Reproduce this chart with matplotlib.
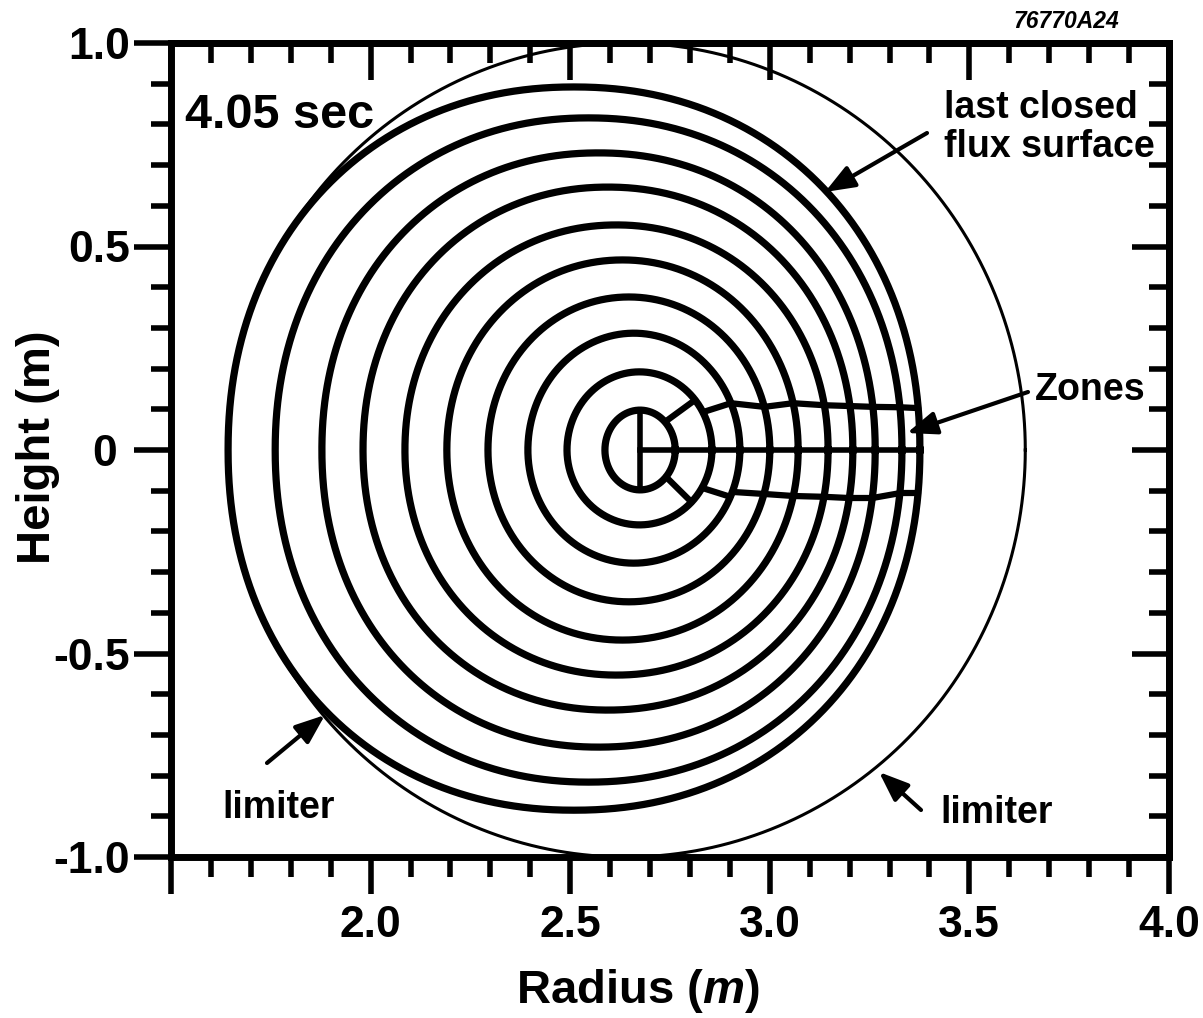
import numpy as np
import matplotlib
matplotlib.use("Agg")
import matplotlib.pyplot as plt
from matplotlib.ticker import MultipleLocator, FixedLocator, FixedFormatter

# ---------------- data ----------------
# nested flux surfaces (innermost first): inboard / outboard midplane radius, top / bottom height
ring_R_inner = [2.587, 2.492, 2.394, 2.294, 2.191, 2.086, 1.981, 1.878, 1.761, 1.643]
ring_R_outer = [2.763, 2.855, 2.925, 3.000, 3.071, 3.146, 3.208, 3.264, 3.331, 3.376]
ring_Z_top = [0.098, 0.192, 0.287, 0.376, 0.467, 0.553, 0.646, 0.730, 0.816, 0.892]
ring_Z_bottom = [-0.098, -0.184, -0.278, -0.373, -0.467, -0.553, -0.639, -0.730, -0.816, -0.885]
# squareness exponent of each surface (2 = ellipse)
ring_shape_n = [2.0, 2.0, 2.0, 2.02, 2.04, 2.06, 2.08, 2.1, 2.1, 2.12]

# limiter circle
limiter_R0 = 2.64
limiter_radius = 1.0

# zone boundaries: height where each boundary leaves ring k and reaches ring k+1
zone_upper_start = [0.069, 0.093, 0.115, 0.106, 0.115, 0.110, 0.108, 0.106, 0.105]
zone_upper_end = [0.123, 0.115, 0.106, 0.115, 0.110, 0.108, 0.106, 0.105, 0.103]
zone_lower_start = [-0.066, -0.093, -0.103, -0.108, -0.113, -0.115, -0.118, -0.118, -0.106]
zone_lower_end = [-0.128, -0.115, -0.108, -0.113, -0.115, -0.118, -0.118, -0.106, -0.106]

x_major = [1.5, 2.0, 2.5, 3.0, 3.5, 4.0]
x_labels = ["", "2.0", "2.5", "3.0", "3.5", "4.0"]
y_major = [-1.0, -0.5, 0.0, 0.5, 1.0]
y_labels = ["-1.0", "-0.5", "0 ", "0.5", "1.0"]

# ---------------- figure ----------------
plt.rcParams['font.family'] = ['Liberation Sans', 'DejaVu Sans']
plt.rcParams['font.weight'] = 'bold'
plt.rcParams['mathtext.fontset'] = 'custom'
plt.rcParams['mathtext.it'] = 'Liberation Sans:italic:bold'
plt.rcParams['mathtext.rm'] = 'Liberation Sans:bold'

W, H = 1203, 1018
fig = plt.figure(figsize=(W / 100, H / 100), dpi=100)
ax = fig.add_axes([171 / W, 1 - 857 / H, (1169 - 171) / W, (857 - 43) / H])
ax.set_xlim(1.5, 4.0)
ax.set_ylim(-1.0, 1.0)

rc = [(a + b) / 2 for a, b in zip(ring_R_inner, ring_R_outer)]
ra = [(b - a) / 2 for a, b in zip(ring_R_inner, ring_R_outer)]

th = np.linspace(0, 2 * np.pi, 1441)
for c, a, bt, bb, n in zip(rc, ra, ring_Z_top, ring_Z_bottom, ring_shape_n):
    ct, st = np.cos(th), np.sin(th)
    x = a * np.sign(ct) * np.abs(ct) ** (2 / n)
    z = np.where(st >= 0, bt, -bb) * np.sign(st) * np.abs(st) ** (2 / n)
    ax.plot(c + x, z, color='black', lw=5.2, solid_joinstyle='round')

# limiter
ax.plot(limiter_R0 + limiter_radius * np.cos(th), limiter_radius * np.sin(th),
        color='black', lw=2.2)


def r_on_ring(k, z):
    b = ring_Z_top[k] if z >= 0 else -ring_Z_bottom[k]
    n = ring_shape_n[k]
    return rc[k] + ra[k] * max(0.0, 1 - abs(z / b) ** n) ** (1 / n)


# zone lines
for k in range(len(zone_upper_start)):
    for z1, z2 in ((zone_upper_start[k], zone_upper_end[k]),
                   (zone_lower_start[k], zone_lower_end[k])):
        ax.plot([r_on_ring(k, z1), r_on_ring(k + 1, z2)], [z1, z2],
                color='black', lw=4.5, solid_capstyle='round')
# midplane and central chord
ax.plot([rc[0], ring_R_outer[-1]], [0, 0], color='black', lw=4.0)
ax.plot([rc[0], rc[0]], [ring_Z_bottom[0], ring_Z_top[0]], color='black', lw=4.0)

# ---------------- axes styling ----------------
for sp in ax.spines.values():
    sp.set_linewidth(5)

ax.xaxis.set_major_locator(FixedLocator(x_major))
ax.xaxis.set_major_formatter(FixedFormatter(x_labels))
ax.xaxis.set_minor_locator(MultipleLocator(0.1))
ax.yaxis.set_major_locator(FixedLocator(y_major))
ax.yaxis.set_major_formatter(FixedFormatter(y_labels))
ax.yaxis.set_minor_locator(MultipleLocator(0.1))
ax.tick_params(which='major', direction='out', length=26.5, width=4, labelsize=32, pad=8)
ax.tick_params(which='minor', direction='out', length=14.5, width=4)
ax.tick_params(axis='y', which='major', pad=3)
for lab in ax.get_xticklabels() + ax.get_yticklabels():
    lab.set_fontweight('bold')

secx = ax.secondary_xaxis('top')
secx.xaxis.set_major_locator(FixedLocator(x_major))
secx.xaxis.set_minor_locator(MultipleLocator(0.1))
secx.tick_params(which='major', direction='in', length=26.5, width=4, labeltop=False)
secx.tick_params(which='minor', direction='in', length=14.5, width=4)
secx.spines['top'].set_linewidth(5)

secy = ax.secondary_yaxis('right')
secy.yaxis.set_major_locator(FixedLocator(y_major))
secy.yaxis.set_minor_locator(MultipleLocator(0.1))
secy.tick_params(which='major', direction='in', length=26.5, width=4, labelright=False)
secy.tick_params(which='minor', direction='in', length=14.5, width=4)
secy.spines['right'].set_linewidth(5)

# axis labels
fig.text(638 / W, 1 - 1003 / H, r'Radius ($\mathit{m}$)', ha='center', va='baseline',
         fontsize=34, fontweight='bold')
fig.text(50 / W, 1 - 447 / H, 'Height (m)', rotation=90, rotation_mode='anchor',
         ha='center', va='baseline', fontsize=34, fontweight='bold')
fig.text(1013 / W, 1 - 28 / H, '76770A24', ha='left', va='baseline',
         fontsize=16.5, fontweight='bold', fontstyle='italic')


def px2d(px, py):
    return 1.5 + (px - 171) / 399.2, (450 - py) / 407.0


ax.text(*px2d(185, 128), '4.05 sec', ha='left', va='baseline', fontsize=35, fontweight='bold')

arrow = dict(arrowstyle='-|>,head_length=1.8,head_width=0.7', color='black', lw=3,
             shrinkA=0, shrinkB=0, mutation_scale=10)
ax.text(*px2d(944, 90), 'last closed\nflux surface', ha='left', va='top',
        fontsize=27, fontweight='bold', linespacing=1.1)
ax.annotate('', xy=px2d(825, 192), xytext=px2d(927, 133), arrowprops=arrow)
ax.text(*px2d(1035, 400), 'Zones', ha='left', va='baseline', fontsize=27, fontweight='bold')
ax.annotate('', xy=px2d(907, 433), xytext=px2d(1028, 392), arrowprops=arrow)
ax.text(*px2d(222, 818), 'limiter', ha='left', va='baseline', fontsize=27, fontweight='bold')
ax.annotate('', xy=px2d(325, 715), xytext=px2d(267, 763), arrowprops=arrow)
ax.text(*px2d(940, 823), 'limiter', ha='left', va='baseline', fontsize=27, fontweight='bold')
ax.annotate('', xy=px2d(879, 772), xytext=px2d(921, 810), arrowprops=arrow)

fig.savefig('out.png', dpi=100)
